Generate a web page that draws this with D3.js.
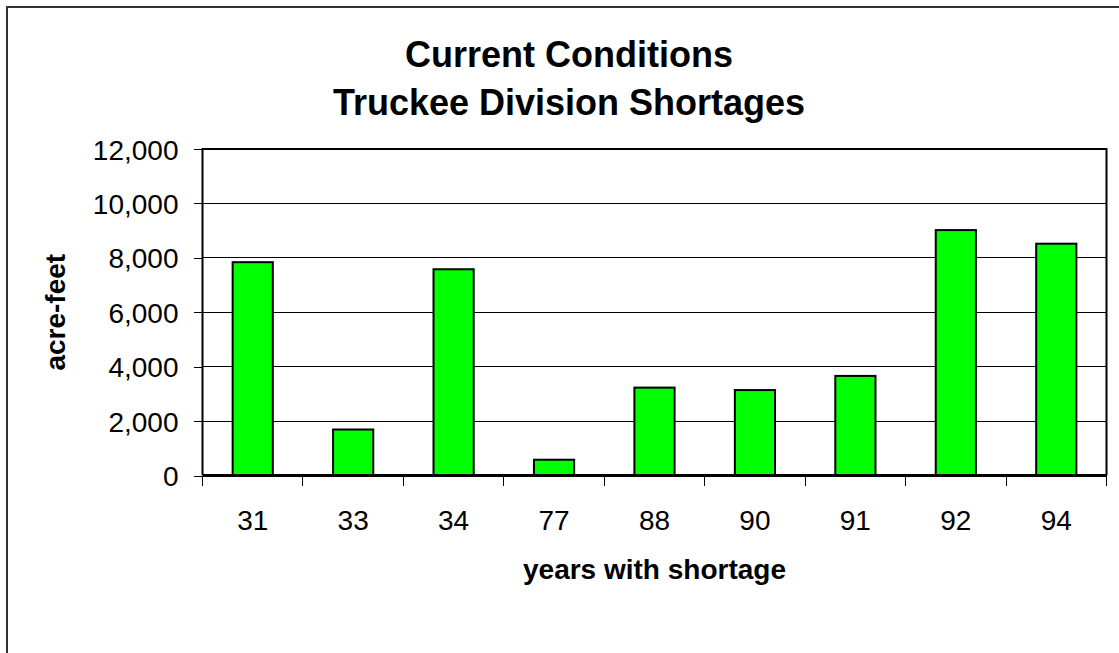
<!DOCTYPE html>
<html>
	<head>
		<meta charset="utf-8">
		<title>Truckee Division Shortages</title>
		<style>
			body { margin: 0; background: #fff; }
			text { font-family: "Liberation Sans", Arial, sans-serif; fill: #000; }
			.axis text { font-size: 28px; }
			.axis path, .axis line { stroke: #000; shape-rendering: crispEdges; }
		</style>
		<script src="https://d3js.org/d3.v7.min.js"></script>
	</head>
	<body>
		<div id="chart"></div>
		<script>
			// data
			var years = ["31", "33", "34", "77", "88", "90", "91", "92", "94"];
			var shortage = [7840, 1690, 7580, 580, 3230, 3140, 3660, 9020, 8520];
			var yTicks = [0, 2000, 4000, 6000, 8000, 10000, 12000];

			var W = 1119, H = 653;
			var margin = {top: 149, left: 202.5},
			width = 904,
			height = 326.5;

			var svg = d3.select("#chart").append("svg")
			.attr("width", W)
			.attr("height", H);

			// outer frame (runs off the right and bottom)
			svg.append("rect")
			.attr("x", 7).attr("y", 7)
			.attr("width", W + 20).attr("height", H + 20)
			.attr("fill", "none")
			.attr("stroke", "#333")
			.attr("stroke-width", 2);

			var g = svg.append("g")
			.attr("transform", "translate(" + margin.left + "," + margin.top + ")");

			var x = d3.scaleBand()
			.domain(years)
			.range([0, width])
			.paddingInner(0.6)
			.paddingOuter(0.3);

			var y = d3.scaleLinear()
			.domain([0, 12000])
			.range([height, 0]);

			// gridlines
			g.append("g")
			.selectAll("line")
			.data(yTicks.filter(function(d) { return d > 0 && d < 12000; }))
			.enter().append("line")
			.attr("x1", 0).attr("x2", width)
			.attr("y1", function(d) { return y(d); })
			.attr("y2", function(d) { return y(d); })
			.attr("stroke", "#000")
			.attr("stroke-width", 1)
			.style("shape-rendering", "crispEdges");

			// y axis
			var yAxis = d3.axisLeft(y)
			.tickValues(yTicks)
			.tickSize(9)
			.tickPadding(15)
			.tickFormat(d3.format(","));

			g.append("g")
			.attr("class", "y axis")
			.call(yAxis)
			.call(function(s) { s.select(".domain").remove(); })
			.selectAll("text").attr("dy", "0.36em");

			// bars
			g.append("g")
			.selectAll("rect")
			.data(shortage)
			.enter().append("rect")
			.attr("x", function(d, i) { return x(years[i]); })
			.attr("y", function(d) { return y(d); })
			.attr("width", x.bandwidth())
			.attr("height", function(d) { return height - y(d); })
			.attr("fill", "#00ff00")
			.attr("stroke", "#000")
			.attr("stroke-width", 2);

			// plot border top/left/right
			g.append("path")
			.attr("d", "M0," + height + "V0H" + width + "V" + height)
			.attr("fill", "none")
			.attr("stroke", "#000")
			.attr("stroke-width", 2);

			// x axis line and boundary ticks
			var xa = g.append("g").attr("class", "x axis");
			xa.append("line")
			.attr("x1", 0).attr("x2", width)
			.attr("y1", height).attr("y2", height)
			.attr("stroke-width", 2.5);

			var bounds = years.map(function(d) { return x(d) - x.step() * 0.3; }).concat([width]);
			xa.selectAll(".tick")
			.data(bounds)
			.enter().append("line")
			.attr("class", "tick")
			.attr("x1", function(d) { return d; })
			.attr("x2", function(d) { return d; })
			.attr("y1", height).attr("y2", height + 10)
			.attr("stroke", "#000");

			xa.selectAll("text")
			.data(years)
			.enter().append("text")
			.attr("x", function(d) { return x(d) + x.bandwidth() / 2; })
			.attr("y", height + 54)
			.attr("text-anchor", "middle")
			.text(function(d) { return d; });

			// axis titles
			g.append("text")
			.attr("x", width / 2)
			.attr("y", height + 103)
			.attr("text-anchor", "middle")
			.style("font-size", "28px")
			.style("font-weight", "bold")
			.text("years with shortage");

			g.append("text")
			.attr("transform", "translate(" + (65 - margin.left) + "," + (height / 2) + ") rotate(-90)")
			.attr("text-anchor", "middle")
			.style("font-size", "28px")
			.style("font-weight", "bold")
			.text("acre-feet");

			// title
			var title = svg.append("text")
			.attr("text-anchor", "middle")
			.style("font-size", "36px")
			.style("font-weight", "bold");
			title.append("tspan").attr("x", 569).attr("y", 67).text("Current Conditions");
			title.append("tspan").attr("x", 569).attr("y", 115).text("Truckee Division Shortages");
		</script>
	</body>
</html>
